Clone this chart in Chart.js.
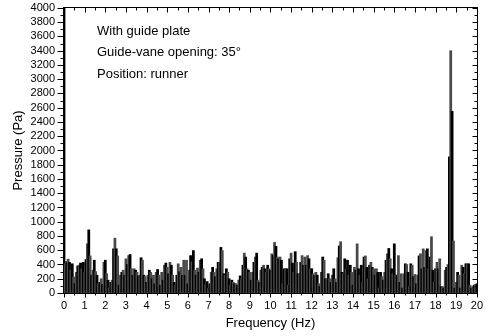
<!DOCTYPE html>
<html>
<head>
<meta charset="utf-8">
<script src="https://cdn.jsdelivr.net/npm/chart.js@4"></script>
<style>
  html, body { margin: 0; padding: 0; background: #ffffff; }
  canvas { display: block; }
</style>
</head>
<body>
<canvas id="spectrum" width="486" height="336"></canvas>
<script>
// Pressure amplitude spectrum at the runner, bins of 1/15 Hz
const BIN_HZ = 1 / 15;

// 0 – 9.93 Hz
const pressureBand1 = [
  4000, 410, 440, 475, 430, 320, 410, 226, 130, 290,
  380, 390, 420, 340, 430, 290, 470, 690, 886, 520,
  250, 320, 460, 300, 250, 130, 150, 200, 120, 430,
  460, 270, 180, 70, 150, 180, 620, 770, 620, 520,
  110, 250, 290, 320, 250, 480, 400, 525, 540, 340,
  250, 340, 320, 290, 240, 250, 495, 460, 250, 230,
  150, 250, 320, 290, 200, 250, 130, 290, 330, 250,
  110, 290, 180, 390, 420, 360, 270, 430, 390, 250,
  150, 110, 250, 410, 300, 360, 250, 460, 250, 460,
  130, 320, 525, 440, 595, 320, 250, 350, 290, 460,
  480, 340, 200, 110, 160, 70, 130, 290, 360, 290,
  230, 340, 430, 430, 640, 595, 270, 250, 340, 290,
  200, 110, 180, 150, 130, 130, 110, 180, 240, 200,
  390, 560, 505, 340, 320, 290, 180, 290, 430, 505,
  560, 180, 150, 320, 360, 390, 340, 290, 390, 340
];

// 10 – 20 Hz
const pressureBand2 = [
  320, 550, 525, 710, 655, 505, 480, 505, 460, 130,
  340, 340, 340, 110, 480, 560, 420, 290, 580, 430,
  270, 270, 430, 525, 390, 505, 390, 525, 480, 340,
  340, 270, 250, 290, 250, 130, 90, 290, 505, 460,
  200, 200, 270, 200, 150, 250, 340, 200, 150, 495,
  660, 720, 290, 270, 480, 340, 460, 250, 390, 290,
  110, 360, 320, 690, 340, 250, 390, 150, 505, 520,
  360, 200, 390, 430, 360, 340, 250, 340, 290, 70,
  290, 230, 180, 290, 460, 550, 625, 480, 340, 270,
  690, 250, 250, 525, 150, 270, 70, 270, 410, 400,
  290, 90, 410, 390, 230, 260, 130, 250, 520, 550,
  340, 620, 360, 595, 620, 340, 505, 790, 320, 150,
  340, 430, 340, 480, 90, 90, 70, 320, 360, 400,
  1910, 3400, 2550, 730, 70, 150, 290, 250, 70, 390,
  360, 270, 410, 410, 410, 110, 70, 90, 110, 120,
  130
];

const freqRange = [0, 20];
const pressureRange = [0, 4000];
const freqStep = 1;       // labelled x ticks
const pressureStep = 200; // labelled y ticks

const infoLines = ['With guide plate', 'Guide-vane opening: 35\u00B0', 'Position: runner'];
const xTitle = 'Frequency (Hz)';
const yTitle = 'Pressure (Pa)';

const FONT = '"Liberation Sans", Arial, Helvetica, sans-serif';
Chart.defaults.font.family = FONT;
Chart.defaults.color = '#000';

const pressure = pressureBand1.concat(pressureBand2);
const points = pressure.map((p, k) => ({ x: k * BIN_HZ, y: p }));

// Boxed frame with major/minor ticks on all four sides, text block and axis titles
const framePlugin = {
  id: 'frameTicks',
  afterDatasetsDraw(chart) {
    const { ctx, chartArea: a, scales: { x, y } } = chart;
    const L = Math.round(a.left) - 0.5;
    const R = Math.round(a.right) + 0.5;
    const T = Math.round(a.top) - 0.5;
    const B = Math.round(a.bottom) + 0.5;
    ctx.save();
    ctx.strokeStyle = '#000';
    ctx.lineWidth = 1;
    ctx.strokeRect(L, T, R - L, B - T);
    ctx.beginPath();
    const yMinor = pressureStep / 2;
    for (let v = pressureRange[0]; v <= pressureRange[1]; v += yMinor) {
      const py = Math.round(y.getPixelForValue(v)) + 0.5;
      const major = v % pressureStep === 0;
      ctx.moveTo(L - (major ? 6 : 3), py); ctx.lineTo(L, py);
      ctx.moveTo(R, py); ctx.lineTo(R - (major ? 5 : 3), py);
    }
    const xMinor = freqStep / 2;
    for (let f = freqRange[0]; f <= freqRange[1] + 1e-9; f += xMinor) {
      const px = Math.round(x.getPixelForValue(f)) + 0.5;
      const major = Math.abs(f - Math.round(f)) < 1e-9;
      ctx.moveTo(px, B); ctx.lineTo(px, B + (major ? 4 : 2));
      ctx.moveTo(px, T); ctx.lineTo(px, T + (major ? 5 : 3));
    }
    ctx.stroke();

    ctx.fillStyle = '#000';
    ctx.font = '13px ' + FONT;
    ctx.textBaseline = 'middle';
    ctx.textAlign = 'left';
    infoLines.forEach((t, i) => ctx.fillText(t, 97, 31 + i * 21.5));

    ctx.textAlign = 'center';
    ctx.fillText(xTitle, (a.left + a.right) / 2, 323);
    ctx.translate(18, (a.top + a.bottom) / 2);
    ctx.rotate(-Math.PI / 2);
    ctx.fillText(yTitle, 0, 0);
    ctx.restore();
  }
};

new Chart(document.getElementById('spectrum'), {
  type: 'bar',
  data: {
    datasets: [{
      data: points,
      backgroundColor: (c) => (c.dataIndex % 2 ? '#4a4a4a' : '#000000'),
      borderWidth: 0,
      barThickness: 2.1
    }]
  },
  options: {
    responsive: false,
    animation: false,
    devicePixelRatio: 1,
    layout: { padding: { top: 5, right: 9, left: 0, bottom: 0 } },
    plugins: { legend: { display: false }, tooltip: { enabled: false } },
    scales: {
      x: {
        type: 'linear',
        min: freqRange[0],
        max: freqRange[1],
        offset: false,
        grid: { display: true, offset: false, drawOnChartArea: false, color: 'rgba(0,0,0,0)', tickLength: 3 },
        border: { display: false },
        ticks: { stepSize: freqStep, padding: 3, autoSkip: false, maxRotation: 0, color: '#000', font: { size: 11 },
                 callback: (v) => String(v) },
        afterFit(s) { s.height = 43; }
      },
      y: {
        min: pressureRange[0],
        max: pressureRange[1],
        grid: { display: true, drawOnChartArea: false, color: 'rgba(0,0,0,0)', tickLength: 6 },
        border: { display: false },
        ticks: { stepSize: pressureStep, padding: 3, autoSkip: false, color: '#000', font: { size: 11, lineHeight: 0.9 },
                 callback: (v) => String(v) },
        afterFit(s) { s.width = 64; }
      }
    }
  },
  plugins: [framePlugin]
});
</script>
</body>
</html>
